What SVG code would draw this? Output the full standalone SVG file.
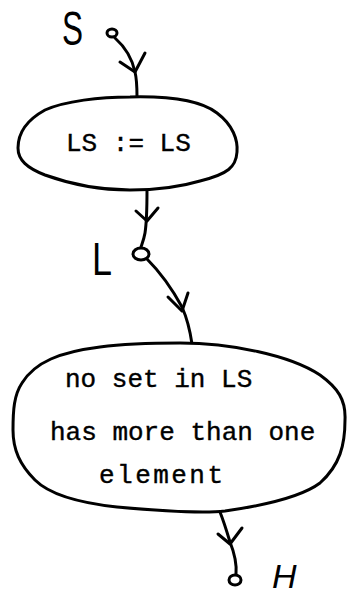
<svg xmlns="http://www.w3.org/2000/svg" width="347" height="598" viewBox="0 0 347 598">
<style>
.ln{fill:none;stroke:#000;stroke-width:3;stroke-linecap:round;stroke-linejoin:round}
.box{fill:#fff;stroke:#000;stroke-width:3;stroke-linejoin:round}
.pt{fill:#fff;stroke:#000;stroke-width:3}
.tt{font-family:"Liberation Mono","Courier New",monospace;font-size:26px;fill:#000;stroke:#000;stroke-width:0.4}
.hw{font-family:"Liberation Sans",Arial,sans-serif;fill:#000}
</style>
<rect width="347" height="598" fill="#fff"/>
<g id="connectors">
<path class="ln" d="M115,38 C124,46 132,58 135,72 C137,80 137,88 137,97"/>
<path class="ln" d="M120,62 L135,72 L145,53"/>
<path class="ln" d="M147,190 C147,205 147,220 145,233 C144,239 142,244 141,247"/>
<path class="ln" d="M136,211 L147,221 L158,208"/>
<path class="ln" d="M147,259 C156,268 170,285 182,307 C186,316 190,330 192,344"/>
<path class="ln" d="M168,297 L182,311 L188,293"/>
<path class="ln" d="M220,512 C224,522 227,532 230,542 C234,552 237,562 236,574"/>
<path class="ln" d="M218,534 L230,544 L242,528"/>
</g>
<g id="S">
<text class="hw" x="62" y="45" font-size="48" textLength="21" lengthAdjust="spacingAndGlyphs">S</text>
<ellipse class="pt" cx="112" cy="33" rx="5" ry="4"/>
</g>
<g id="assign">
<path class="box" d="M130,97 C170,96 200,100 217,113 C233,125 238,140 237,152 C236,167 228,174 200,181 C180,187 160,190 130,190 C100,190 70,184 45,175 C27,168 18,160 18,148 C18,135 25,121 45,110 C65,101 100,97 130,97 Z"/>
<text class="tt" x="66" y="151">LS := LS</text>
</g>
<g id="L">
<text class="hw" x="92" y="275" font-size="46" textLength="20" lengthAdjust="spacingAndGlyphs">L</text>
<ellipse class="pt" cx="141" cy="254" rx="8" ry="6"/>
</g>
<g id="cond">
<path class="box" d="M180,343 C230,343 290,355 320,375 C338,388 346,400 345,420 C345,445 340,465 320,483 C300,498 260,506 225,511 C200,514 150,510 117,507 C80,503 50,495 35,480 C20,465 13,450 13,430 C13,410 14,395 22,383 C35,362 60,352 100,347 C130,343 155,343 180,343 Z"/>
<text class="tt" x="65" y="387">no set in LS</text>
<text class="tt" x="50" y="440">has more than one</text>
<text class="tt" x="99" y="483" textLength="124" lengthAdjust="spacing">element</text>
</g>
<g id="H">
<ellipse class="pt" cx="235" cy="580" rx="6" ry="5"/>
<text class="hw" x="272" y="588" font-size="34" font-style="italic">H</text>
</g>
</svg>
